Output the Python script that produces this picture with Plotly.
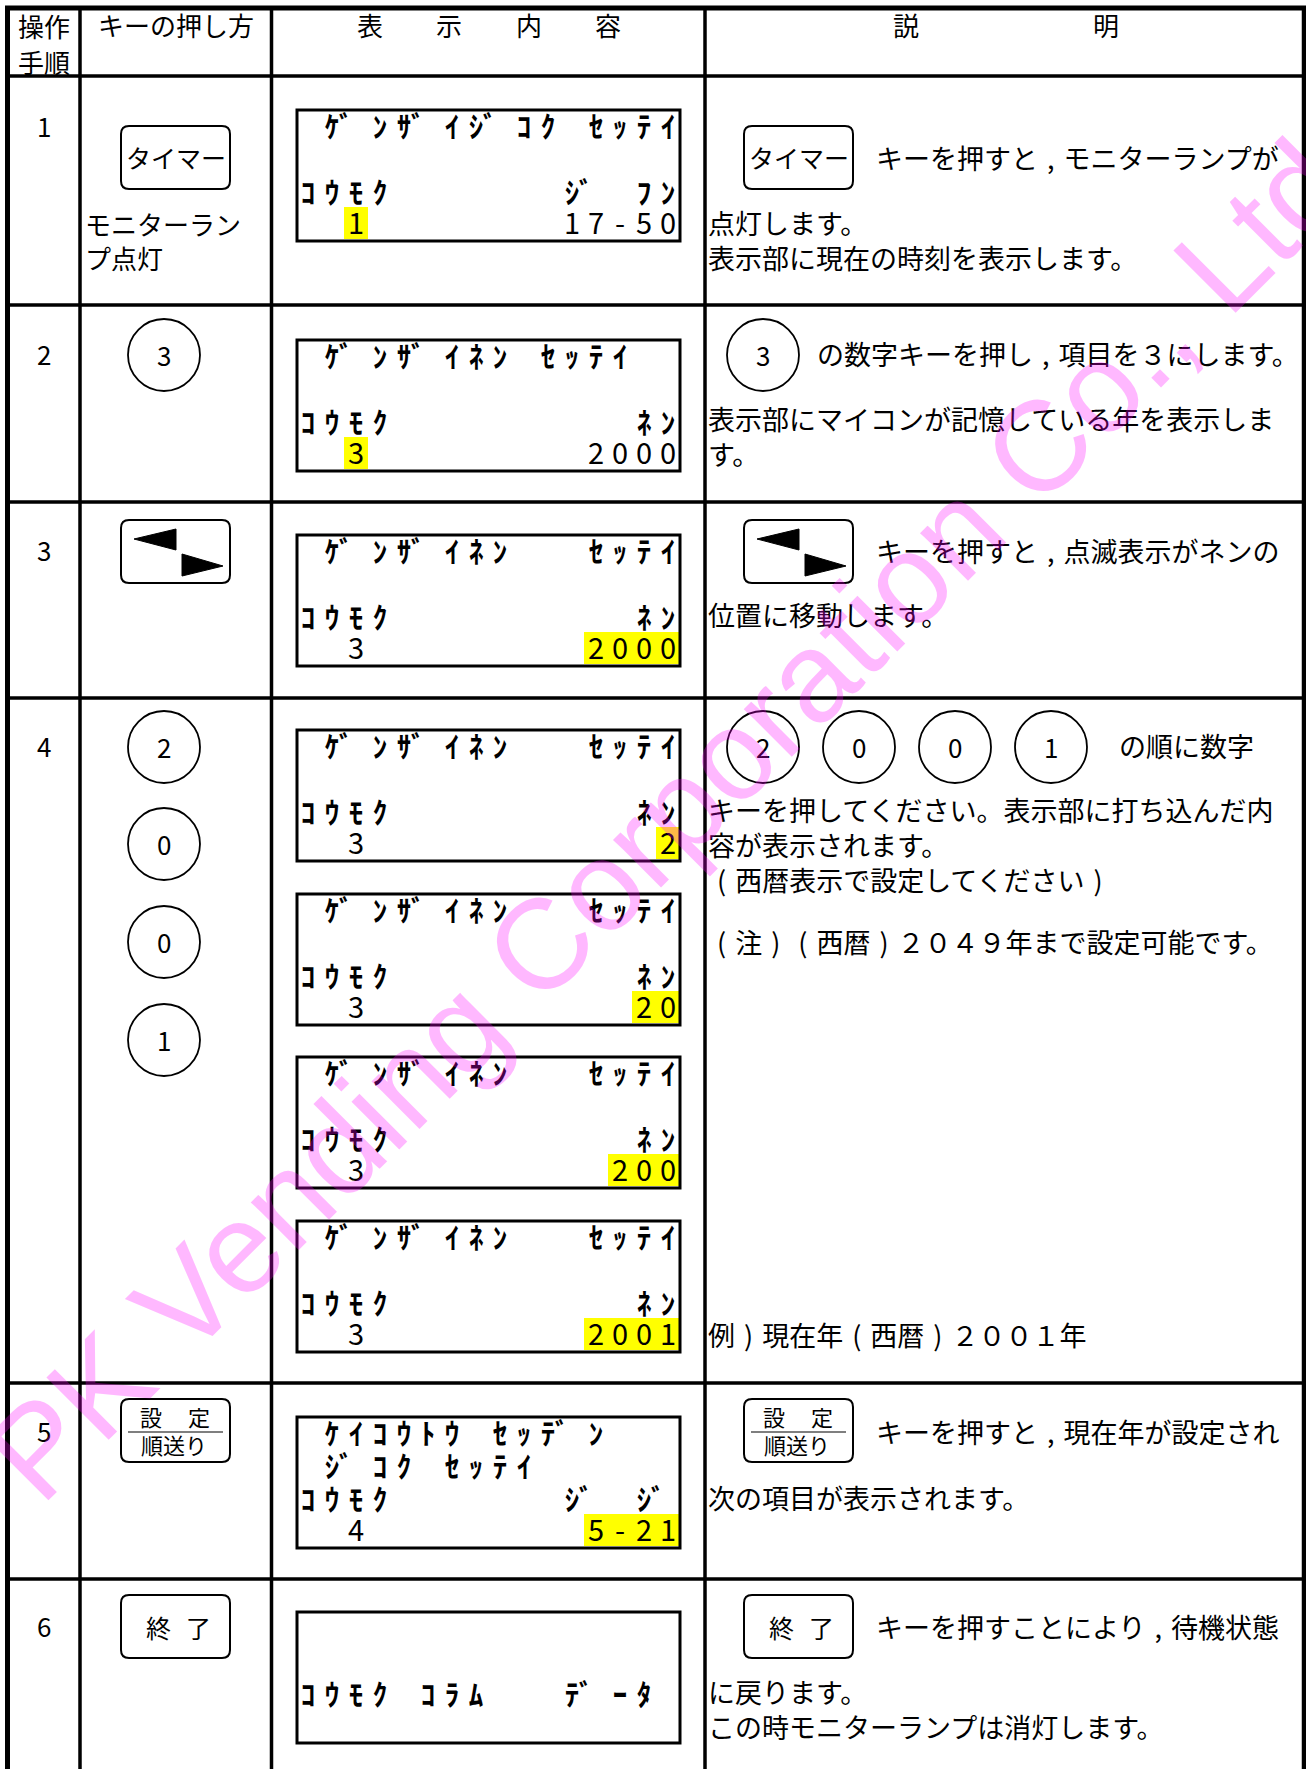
import plotly.graph_objects as go

W, H = 1306, 1769
FONT = "Noto Sans CJK JP"

# ---------------- data ----------------
STEP_LABELS = ["1", "2", "3", "4", "5", "6"]
HEADER_STEP = ["操作", "手順"]
HEADER_KEY = ["キーの押し方"]
HEADER_DISPLAY = ["表", "示", "内", "容"]
HEADER_DESC = ["説", "明"]
KEY_NOTE_ROW1 = ["モニターラン", "プ点灯"]
KEY_TIMER = ["タイマー"]
KEY_SET = ["設", "定", "順送り"]
KEY_END = ["終", "了"]
DIGIT_KEYS_ROW2 = ["3"]
DIGIT_KEYS_ROW4 = ["2", "0", "0", "1"]

# LCD screens: 4 lines each, every line is a list of (start column, text)
LCD_SCREENS = [
    [[(1, "ｹﾞﾝｻﾞｲｼﾞｺｸ"), (12, "ｾｯﾃｲ")], [],
     [(0, "ｺｳﾓｸ"), (11, "ｼﾞ"), (14, "ﾌﾝ")], [(2, "1"), (11, "17-50")]],
    [[(1, "ｹﾞﾝｻﾞｲﾈﾝ"), (10, "ｾｯﾃｲ")], [],
     [(0, "ｺｳﾓｸ"), (14, "ﾈﾝ")], [(2, "3"), (12, "2000")]],
    [[(1, "ｹﾞﾝｻﾞｲﾈﾝ"), (12, "ｾｯﾃｲ")], [],
     [(0, "ｺｳﾓｸ"), (14, "ﾈﾝ")], [(2, "3"), (12, "2000")]],
    [[(1, "ｹﾞﾝｻﾞｲﾈﾝ"), (12, "ｾｯﾃｲ")], [],
     [(0, "ｺｳﾓｸ"), (14, "ﾈﾝ")], [(2, "3"), (15, "2")]],
    [[(1, "ｹﾞﾝｻﾞｲﾈﾝ"), (12, "ｾｯﾃｲ")], [],
     [(0, "ｺｳﾓｸ"), (14, "ﾈﾝ")], [(2, "3"), (14, "20")]],
    [[(1, "ｹﾞﾝｻﾞｲﾈﾝ"), (12, "ｾｯﾃｲ")], [],
     [(0, "ｺｳﾓｸ"), (14, "ﾈﾝ")], [(2, "3"), (13, "200")]],
    [[(1, "ｹﾞﾝｻﾞｲﾈﾝ"), (12, "ｾｯﾃｲ")], [],
     [(0, "ｺｳﾓｸ"), (14, "ﾈﾝ")], [(2, "3"), (12, "2001")]],
    [[(1, "ｹｲｺｳﾄｳ"), (8, "ｾｯﾃﾞﾝ")], [(1, "ｼﾞｺｸ"), (6, "ｾｯﾃｲ")],
     [(0, "ｺｳﾓｸ"), (11, "ｼﾞ"), (14, "ｼﾞ")], [(2, "4"), (12, "5-21")]],
    [[], [], [(0, "ｺｳﾓｸ"), (5, "ｺﾗﾑ"), (11, "ﾃﾞｰﾀ")], []],
]
# highlighted (blinking) cells: (first column, last column) on the last line
LCD_HIGHLIGHTS = [(2, 2), (2, 2), (12, 15), (15, 15), (14, 15), (13, 15), (12, 15), (12, 15), None]

# description column: each row is a list of text blocks (lines of one block are consecutive)
DESC_ROW1 = [["キーを押すと，モニターランプが"], ["点灯します。", "表示部に現在の時刻を表示します。"]]
DESC_ROW2 = [["の数字キーを押し，項目を３にします。"], ["表示部にマイコンが記憶している年を表示しま", "す。"]]
DESC_ROW3 = [["キーを押すと，点滅表示がネンの"], ["位置に移動します。"]]
DESC_ROW4 = [["の順に数字"],
             ["キーを押してください。表示部に打ち込んだ内", "容が表示されます。", "（西暦表示で設定してください）"],
             ["（注）（西暦）２０４９年まで設定可能です。"],
             ["例）現在年（西暦）２００１年"]]
DESC_ROW5 = [["キーを押すと，現在年が設定され"], ["次の項目が表示されます。"]]
DESC_ROW6 = [["キーを押すことにより，待機状態"], ["に戻ります。", "この時モニターランプは消灯します。"]]
WATERMARK = ["PK Vending Corporation Co., Ltd."]

# ---------------- layout geometry ----------------
ROW_LINES = [76, 305, 502, 698, 1383, 1579]
COL_LINES = [80, 271.5, 705]
STEP_Y = [125, 353, 549, 745, 1430, 1625]
LCD_TOPS = [110, 340, 535, 730, 894, 1057, 1221, 1417, 1612]
LCD_LEFT, LCD_RIGHT, LCD_H = 297, 680, 131
LCD_COL0, LCD_PITCH = 308, 24
LCD_LINE_DY = [21, 54, 87, 119]
DAKUTEN_SHIFT = -10
DESC_SIZE = 27

# (x of block start, y of block centre)
DESC_POS = {
    1: [(876, 157), (708, 240)],
    2: [(817, 353), (708, 436)],
    3: [(876, 550), (708, 614)],
    4: [(1119, 745), (708, 844), (708, 941), (708, 1334)],
    5: [(876, 1431), (708, 1497)],
    6: [(876, 1626), (708, 1709)],
}
DESC_TEXT = {1: DESC_ROW1, 2: DESC_ROW2, 3: DESC_ROW3, 4: DESC_ROW4, 5: DESC_ROW5, 6: DESC_ROW6}

COMMA = "\u2004,\u2004"
LPAR = "\u2004(\u2004"
RPAR = "\u2004)\u2004"


def typeset(s):
    return s.replace("，", COMMA).replace("（", LPAR).replace("）", RPAR)


shapes, annos = [], []


def add_line(x0, y0, x1, y1, w=3.5):
    shapes.append(dict(type="line", xref="x", yref="y", x0=x0, y0=y0, x1=x1, y1=y1,
                       line=dict(color="black", width=w), layer="above"))


def add_text(x, y, s, size=26, xanchor="left", family=FONT):
    annos.append(dict(x=x, y=y, xref="x", yref="y", text=s, showarrow=False,
                      xanchor=xanchor, yanchor="middle", align="left", borderpad=0, borderwidth=0,
                      font=dict(family=family, size=size, color="black")))


def rrect_path(x0, y0, x1, y1, r=8):
    return (f"M {x0+r},{y0} L {x1-r},{y0} Q {x1},{y0} {x1},{y0+r} L {x1},{y1-r} "
            f"Q {x1},{y1} {x1-r},{y1} L {x0+r},{y1} Q {x0},{y1} {x0},{y1-r} "
            f"L {x0},{y0+r} Q {x0},{y0} {x0+r},{y0} Z")


def add_rrect(x0, y0, x1, y1):
    shapes.append(dict(type="path", xref="x", yref="y", path=rrect_path(x0, y0, x1, y1),
                       line=dict(color="black", width=2), fillcolor="rgba(0,0,0,0)", layer="above"))


def add_tri(pts):
    p = "M " + " L ".join(f"{x},{y}" for x, y in pts) + " Z"
    shapes.append(dict(type="path", xref="x", yref="y", path=p, line=dict(color="black", width=1),
                       fillcolor="black", layer="above"))


def add_circle(cx, cy, label, r=36):
    shapes.append(dict(type="circle", xref="x", yref="y", x0=cx - r, y0=cy - r, x1=cx + r, y1=cy + r,
                       line=dict(color="black", width=1.8), layer="above"))
    add_text(cx, cy - 1, label, 26, "center")


KW, KH = 109, 63


def timer_key(x0, y0):
    add_rrect(x0, y0, x0 + KW, y0 + KH)
    add_text(x0 + 55, y0 + 31, KEY_TIMER[0], 25, "center")


def arrow_key(x0, y0):
    add_rrect(x0, y0, x0 + KW, y0 + KH)
    add_tri([(x0 + 13, y0 + 19), (x0 + 55, y0 + 9), (x0 + 55, y0 + 30)])
    add_tri([(x0 + 61, y0 + 34), (x0 + 61, y0 + 56), (x0 + 102, y0 + 46)])


def set_key(x0, y0):
    add_rrect(x0, y0, x0 + KW, y0 + KH)
    add_text(x0 + 30, y0 + 17, KEY_SET[0], 22, "center")
    add_text(x0 + 78, y0 + 17, KEY_SET[1], 22, "center")
    add_line(x0 + 7, y0 + 33, x0 + 102, y0 + 33, 1.2)
    add_text(x0 + 53, y0 + 45, KEY_SET[2], 22, "center")


def end_key(x0, y0):
    add_rrect(x0, y0, x0 + KW, y0 + KH)
    add_text(x0 + 37, y0 + 32, KEY_END[0], 25, "center")
    add_text(x0 + 77, y0 + 32, KEY_END[1], 25, "center")


# ---------------- table frame ----------------
add_line(5, 8, W, 8, 5)
add_line(7.5, 6, 7.5, H, 5)
add_line(1304, 6, 1304, H, 4.5)
for x in COL_LINES:
    add_line(x, 8, x, H, 3.5)
for y in ROW_LINES:
    add_line(7.5, y, 1304, y, 3.5)

# headers
add_text(44, 25, HEADER_STEP[0], 26, "center")
add_text(44, 61, HEADER_STEP[1], 26, "center")
add_text(176, 24, HEADER_KEY[0], 26, "center")
for x, ch in zip([370, 449, 529, 608], HEADER_DISPLAY):
    add_text(x, 24, ch, 26, "center")
for x, ch in zip([906, 1106], HEADER_DESC):
    add_text(x, 24, ch, 26, "center")

# step numbers
for s, y in zip(STEP_LABELS, STEP_Y):
    add_text(44, y, s, 26, "center")

# key column
timer_key(121, 126)
add_text(85, 240, "<br>".join(KEY_NOTE_ROW1))
add_circle(164, 355, DIGIT_KEYS_ROW2[0])
arrow_key(121, 520)
for lab, y in zip(DIGIT_KEYS_ROW4, [747, 844, 942, 1040]):
    add_circle(164, y, lab)
set_key(121, 1399)
end_key(121, 1595)

# description column keys
timer_key(744, 126)
add_circle(763, 355, DIGIT_KEYS_ROW2[0])
arrow_key(744, 520)
for lab, x in zip(DIGIT_KEYS_ROW4, [763, 859, 955, 1051]):
    add_circle(x, 747, lab)
set_key(744, 1399)
end_key(744, 1595)

# description texts
for r in range(1, 7):
    for block, (x, y) in zip(DESC_TEXT[r], DESC_POS[r]):
        add_text(x, y, "<br>".join(typeset(s) for s in block), DESC_SIZE, "left")

# LCD boxes + highlights
kx, ky, kt = [], [], []   # katakana cells
dx_, dy_, dt = [], [], []  # digits / symbols
for top, lines, hl in zip(LCD_TOPS, LCD_SCREENS, LCD_HIGHLIGHTS):
    shapes.append(dict(type="rect", xref="x", yref="y", x0=LCD_LEFT, y0=top, x1=LCD_RIGHT, y1=top + LCD_H,
                       line=dict(color="black", width=3), fillcolor="rgba(0,0,0,0)", layer="above"))
    if hl:
        c0, c1 = hl
        shapes.append(dict(type="rect", xref="x", yref="y",
                           x0=LCD_COL0 + LCD_PITCH * c0 - 12,
                           x1=min(LCD_COL0 + LCD_PITCH * c1 + 12, LCD_RIGHT - 1),
                           y0=top + 97, y1=top + 129,
                           line=dict(width=0), fillcolor="#FFFF00", layer="below"))
    for li, segs in enumerate(lines):
        for col, s in segs:
            for k, ch in enumerate(s):
                if ch == " ":
                    continue
                x = LCD_COL0 + LCD_PITCH * (col + k) + (DAKUTEN_SHIFT if ch == "ﾞ" else 0)
                y = top + LCD_LINE_DY[li]
                if ch.isascii():
                    dx_.append(x); dy_.append(y - 2); dt.append(ch)
                else:
                    kx.append(x); ky.append(y); kt.append(ch)

fig = go.Figure()
fig.add_trace(go.Scatter(x=kx, y=ky, text=kt, mode="text", textposition="middle center",
                         textfont=dict(family=FONT, size=29, color="black", weight="bold"),
                         hoverinfo="skip", showlegend=False))
fig.add_trace(go.Scatter(x=dx_, y=dy_, text=dt, mode="text", textposition="middle center",
                         textfont=dict(family=FONT, size=29, color="black"),
                         hoverinfo="skip", showlegend=False))

# watermark (on top)
annos.append(dict(x=678, y=807, xref="x", yref="y", text=WATERMARK[0], showarrow=False,
                  textangle=-45, xanchor="center", yanchor="middle",
                  font=dict(family="Liberation Sans", size=128, color="rgba(255,0,255,0.28)")))

fig.update_layout(
    width=W, height=H, autosize=False,
    margin=dict(l=0, r=0, t=0, b=0, pad=0),
    paper_bgcolor="white", plot_bgcolor="white",
    xaxis=dict(range=[0, W], visible=False, fixedrange=True),
    yaxis=dict(range=[H, 0], visible=False, fixedrange=True),
    shapes=shapes, annotations=annos, hovermode=False, showlegend=False,
)

fig.write_html("out.html", config={"displayModeBar": False},
               post_script="document.body.style.margin='0';")
